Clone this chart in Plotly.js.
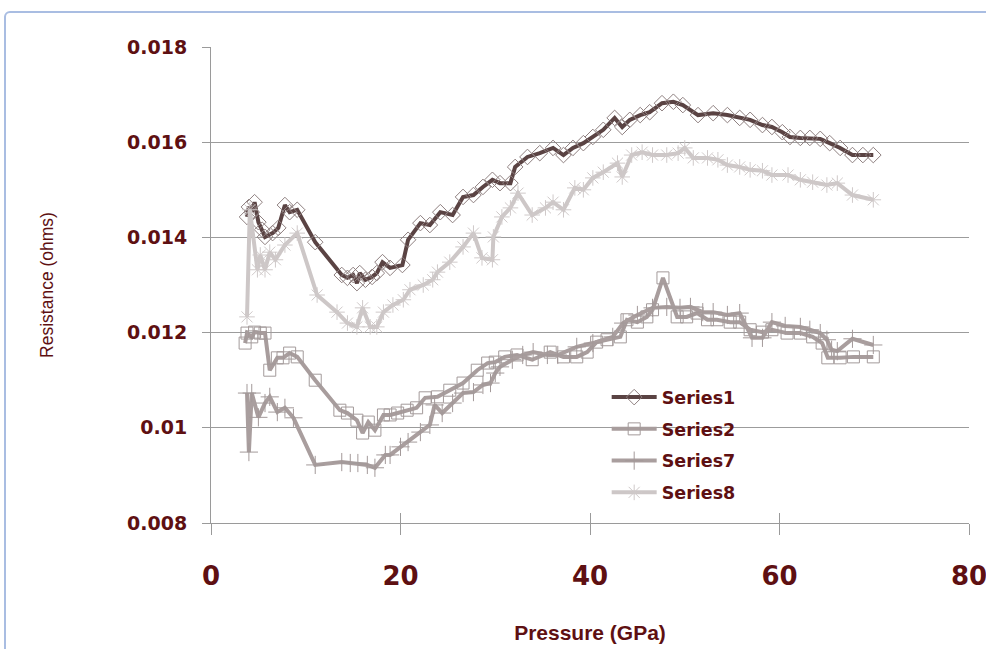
<!DOCTYPE html>
<html>
<head>
<meta charset="utf-8">
<script src="https://cdn.plot.ly/plotly-3.0.1.min.js"></script>
<style>
  html, body { margin: 0; padding: 0; background: #fff; }
  #wrap { position: relative; width: 986px; height: 649px; overflow: hidden; }
  #chart { position: absolute; left: 0; top: 0; width: 986px; height: 649px; }
  #frame { position: absolute; left: 4px; top: 11px; width: 1200px; height: 900px;
           border: 2px solid #a9bde2; border-radius: 6px; pointer-events: none; }
</style>
</head>
<body>
<div id="wrap">
  <div id="chart"></div>
  <div id="frame"></div>
</div>
<script>
// ---- data ----
var s1x = [3.8, 4.0, 4.3, 4.6, 5.0, 5.4, 5.7, 6.5, 7.1, 7.8, 8.3, 9.1, 11.0, 13.8, 14.4, 15.0, 15.4, 15.7, 16.3, 17.0, 17.5, 18.1, 18.9, 20.2, 20.8, 22.1, 23.1, 24.2, 25.5, 26.6, 27.7, 28.7, 29.7, 30.5, 31.6, 32.1, 33.4, 34.7, 36.1, 37.2, 38.2, 39.3, 40.3, 41.4, 42.6, 43.4, 44.2, 45.3, 46.3, 47.6, 48.8, 49.8, 51.4, 53.0, 54.5, 55.8, 56.9, 58.2, 59.2, 60.3, 61.1, 62.2, 63.2, 64.3, 65.3, 66.4, 67.7, 68.8, 69.9];
var s1y = [0.01443, 0.01464, 0.01453, 0.01474, 0.01432, 0.01416, 0.01401, 0.01409, 0.01420, 0.01468, 0.01453, 0.01458, 0.01390, 0.01321, 0.01315, 0.01321, 0.01304, 0.01325, 0.01311, 0.01317, 0.01325, 0.01348, 0.01336, 0.01342, 0.01395, 0.01430, 0.01426, 0.01453, 0.01447, 0.01485, 0.01489, 0.01506, 0.01521, 0.01514, 0.01514, 0.01548, 0.01569, 0.01577, 0.01588, 0.01573, 0.01588, 0.01598, 0.01611, 0.01626, 0.01651, 0.01632, 0.01647, 0.01657, 0.01663, 0.01682, 0.01685, 0.01678, 0.01657, 0.01661, 0.01657, 0.01651, 0.01647, 0.01636, 0.01632, 0.01621, 0.01611, 0.01609, 0.01609, 0.01607, 0.01598, 0.01588, 0.01573, 0.01573, 0.01573];

var s2x = [3.6, 3.8, 4.3, 4.6, 5.2, 5.7, 6.2, 7.0, 7.6, 8.3, 9.1, 11.0, 13.6, 14.4, 15.4, 16.0, 16.6, 17.3, 18.2, 18.9, 19.7, 20.7, 21.7, 22.6, 23.9, 25.2, 26.6, 28.1, 29.2, 30.0, 31.0, 32.3, 33.9, 35.8, 37.2, 38.6, 39.7, 40.7, 41.8, 43.2, 43.9, 45.0, 46.0, 46.6, 47.7, 49.2, 50.2, 51.3, 52.4, 53.4, 54.8, 55.8, 56.9, 58.2, 59.2, 60.8, 62.2, 63.5, 64.5, 65.1, 66.4, 67.8, 69.9];
var s2y = [0.01178, 0.01199, 0.01191, 0.01201, 0.01199, 0.01199, 0.01121, 0.01147, 0.01147, 0.01157, 0.01149, 0.01100, 0.01037, 0.01031, 0.01016, 0.00989, 0.01012, 0.00995, 0.01027, 0.01027, 0.01031, 0.01037, 0.01042, 0.01063, 0.01065, 0.01079, 0.01094, 0.01121, 0.01136, 0.01138, 0.01149, 0.01153, 0.01143, 0.01159, 0.01149, 0.01149, 0.01159, 0.01180, 0.01185, 0.01191, 0.01227, 0.01222, 0.01233, 0.01248, 0.01315, 0.01233, 0.01233, 0.01241, 0.01227, 0.01227, 0.01222, 0.01222, 0.01206, 0.01201, 0.01206, 0.01199, 0.01199, 0.01191, 0.01178, 0.01147, 0.01147, 0.01149, 0.01149];

var s7x = [3.8, 4.0, 4.3, 5.0, 5.7, 6.2, 7.0, 7.8, 8.7, 11.0, 13.8, 14.7, 15.5, 16.5, 17.3, 18.4, 18.9, 20.0, 20.8, 22.1, 23.1, 23.6, 24.4, 25.5, 26.6, 27.7, 28.7, 29.5, 30.0, 30.5, 31.8, 32.9, 34.0, 35.5, 36.6, 38.6, 40.3, 42.4, 43.5, 45.0, 46.6, 48.1, 49.5, 50.6, 51.9, 53.0, 54.5, 55.8, 57.1, 58.2, 59.2, 60.6, 62.2, 63.2, 64.3, 65.0, 65.5, 66.1, 67.7, 69.9];
var s7y = [0.01073, 0.00949, 0.01073, 0.01022, 0.01052, 0.01065, 0.01033, 0.01042, 0.01021, 0.00922, 0.00928, 0.00926, 0.00926, 0.00922, 0.00916, 0.00943, 0.00943, 0.00960, 0.00970, 0.00991, 0.01006, 0.01048, 0.01031, 0.01052, 0.01073, 0.01075, 0.01090, 0.01094, 0.01115, 0.01128, 0.01143, 0.01153, 0.01159, 0.01153, 0.01153, 0.01170, 0.01178, 0.01191, 0.01220, 0.01237, 0.01252, 0.01254, 0.01252, 0.01254, 0.01243, 0.01243, 0.01237, 0.01241, 0.01189, 0.01189, 0.01222, 0.01214, 0.01212, 0.01206, 0.01199, 0.01185, 0.01164, 0.01161, 0.01187, 0.01174];

var s8x = [3.8, 4.1, 4.9, 5.2, 5.7, 6.2, 6.8, 7.8, 9.1, 11.2, 13.3, 14.4, 15.4, 16.0, 16.8, 17.5, 18.2, 19.2, 20.3, 21.0, 22.4, 23.4, 23.9, 25.2, 26.6, 27.7, 28.6, 29.7, 29.8, 30.7, 31.6, 32.4, 33.9, 35.3, 36.1, 37.2, 38.4, 39.3, 40.3, 41.4, 42.9, 43.4, 44.4, 45.5, 46.6, 48.1, 49.3, 50.0, 50.9, 52.4, 53.5, 54.5, 55.8, 56.9, 58.2, 59.2, 60.9, 62.2, 63.5, 65.0, 66.1, 67.7, 69.9];
var s8y = [0.01233, 0.01458, 0.01332, 0.01363, 0.01332, 0.01369, 0.01353, 0.01384, 0.01409, 0.01279, 0.01243, 0.01220, 0.01212, 0.01252, 0.01212, 0.01212, 0.01243, 0.01258, 0.01269, 0.01290, 0.01300, 0.01311, 0.01327, 0.01348, 0.01380, 0.01409, 0.01357, 0.01353, 0.01401, 0.01443, 0.01462, 0.01493, 0.01447, 0.01462, 0.01474, 0.01458, 0.01504, 0.01500, 0.01525, 0.01537, 0.01556, 0.01527, 0.01573, 0.01579, 0.01573, 0.01573, 0.01577, 0.01588, 0.01567, 0.01567, 0.01563, 0.01552, 0.01548, 0.01542, 0.01540, 0.01531, 0.01531, 0.01521, 0.01516, 0.01510, 0.01514, 0.01489, 0.01479];

var seriesNames = ['Series1', 'Series2', 'Series7', 'Series8'];
var yTickVals = [0.008, 0.010, 0.012, 0.014, 0.016, 0.018];
var yTickText = ['0.008', '0.01', '0.012', '0.014', '0.016', '0.018'];
var xTickVals = [0, 20, 40, 60, 80];
var xTickText = ['0', '20', '40', '60', '80'];

// ---- styles ----
var maroon = '#5e1012';
var boldFont = 'DejaVu Sans, Verdana, sans-serif';

function mk(name, xs, ys, lineColor, lineW, sym, mColor, mSize) {
  return {
    type: 'scatter', mode: 'lines+markers', name: name, x: xs, y: ys,
    legendgroup: name,
    line: { color: lineColor, width: lineW },
    marker: { symbol: sym, size: mSize, color: mColor, line: { color: mColor, width: 1 } },
    hoverinfo: 'x+y'
  };
}

var traces = [
  mk(seriesNames[0], s1x, s1y, '#5a4343', 4, 'diamond-open', '#8e7f7f', 12),
  mk(seriesNames[1], s2x, s2y, '#a89d9d', 4, 'square-open', '#a39a9a', 12),
  mk(seriesNames[2], s7x, s7y, '#a99e9e', 4, 'cross-thin-open', '#a39999', 13),
  mk(seriesNames[3], s8x, s8y, '#cdc7c7', 4, 'asterisk-open', '#cfc9c9', 13)
];
// overlay axis to get crossing x tick marks
traces.push({ type: 'scatter', x: [0, 80], y: [0.008, 0.008], xaxis: 'x2', mode: 'none',
              showlegend: false, hoverinfo: 'skip' });

var layout = {
  width: 986, height: 649,
  margin: { l: 211, r: 17, t: 47, b: 126, pad: 0 },
  paper_bgcolor: 'rgba(0,0,0,0)', plot_bgcolor: 'rgba(0,0,0,0)',
  showlegend: true,
  legend: {
    x: 0.522, y: 0.302, xanchor: 'left', yanchor: 'top',
    bgcolor: 'rgba(255,255,255,0)',
    font: { family: boldFont, size: 17.5, color: maroon, weight: 'bold' },
    traceorder: 'grouped', tracegroupgap: 6, itemwidth: 45
  },
  xaxis: {
    range: [0, 80], tickvals: xTickVals, ticktext: xTickText,
    showgrid: false, zeroline: false,
    showline: true, linecolor: '#9a9a9a', linewidth: 1,
    ticks: 'outside', ticklen: 11, tickcolor: '#9a9a9a', tickwidth: 1,
    ticklabelstandoff: 19, ticklabeloverflow: 'allow',
    tickfont: { family: boldFont, size: 26, color: maroon, weight: 'bold' },
    title: { text: 'Pressure (GPa)', standoff: 35,
             font: { family: 'Liberation Sans, Arial, sans-serif', size: 21, color: maroon, weight: 'bold' } },
    automargin: false
  },
  xaxis2: {
    overlaying: 'x', matches: 'x', range: [0, 80], tickvals: xTickVals,
    showticklabels: false, showgrid: false, zeroline: false, showline: false,
    ticks: 'inside', ticklen: 10, tickcolor: '#9a9a9a', tickwidth: 1,
    anchor: 'y', side: 'bottom'
  },
  yaxis: {
    range: [0.008, 0.018], tickvals: yTickVals, ticktext: yTickText,
    showgrid: true, gridcolor: '#9c9c9c', gridwidth: 1, zeroline: false,
    showline: true, linecolor: '#9a9a9a', linewidth: 1,
    ticks: 'outside', ticklen: 8, tickcolor: '#9a9a9a', tickwidth: 1,
    ticklabelstandoff: 11,
    tickfont: { family: boldFont, size: 19, color: maroon, weight: 'bold' },
    title: { text: 'Resistance (ohms)', standoff: 68,
             font: { family: 'Liberation Sans, Arial, sans-serif', size: 17.5, color: maroon } },
    automargin: false
  }
};

Plotly.newPlot('chart', traces, layout, { displayModeBar: false, staticPlot: true });
</script>
</body>
</html>
